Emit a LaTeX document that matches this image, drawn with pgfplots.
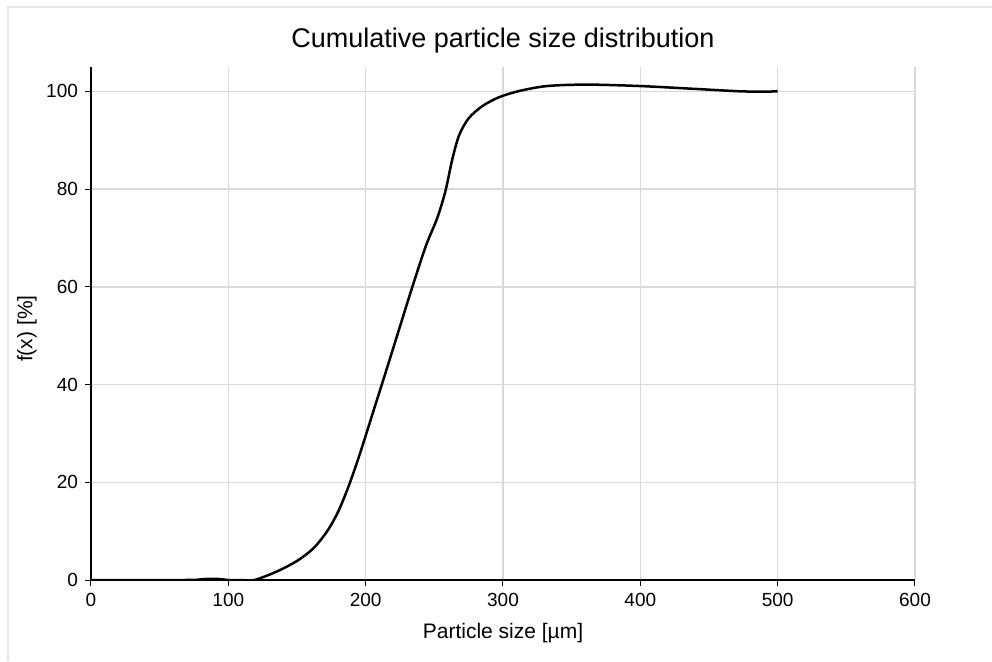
\documentclass[border=0pt]{standalone}
\usepackage{fontspec}
\setmainfont{Liberation Sans}
\usepackage{pgfplots}
\pgfplotsset{compat=1.18}
\definecolor{gridgray}{RGB}{217,217,217}
\definecolor{framegray}{RGB}{230,230,230}

\begin{document}
\begin{tikzpicture}
\useasboundingbox (0,0) rectangle (496pt,330.5pt);
% outer frame of the chart area (only left and top edges are visible)
\draw[framegray, line width=0.6pt] (4pt,0) -- (4pt,327pt) -- (496pt,327pt);
\begin{axis}[
  at={(45.5pt,40.5pt)}, anchor=south west,
  width=412pt, height=256.5pt, scale only axis,
  xmin=0, xmax=600, ymin=0, ymax=105,
  xtick={0,100,...,600}, ytick={0,20,...,100},
  axis lines=left, axis line style={-, black, line width=0.6pt},
  tick align=outside, major tick length=3pt,
  tick style={black, line width=0.5pt},
  grid=major, grid style={gridgray, line width=0.75pt},
  /pgf/number format/assume math mode=true,
  tick label style={font=\fontsize{9.5}{11}\selectfont},
  label style={font=\fontsize{10.5}{12}\selectfont},
  title style={font=\fontsize{13.5}{15}\selectfont, anchor=base, at={(0.5,1)}, yshift=4pt},
  xlabel style={anchor=base, at={(axis description cs:0.5,0)}, yshift=-29pt},
  ylabel style={anchor=center, at={(axis description cs:0,0.49)}, yshift=32pt},
  title={Cumulative particle size distribution},
  xlabel={Particle size [µm]},
  ylabel={f(x) [\%]},
]
\addplot[black, line width=1.25pt, smooth, tension=0.5] coordinates {
  (0,0) (20,0) (40,0) (60,0) (75,0.02) (83,0.2) (90,0.25) (96,0.12) (100,0)
  (110,0) (119,0) (135,1.7) (150,3.9) (162,6.5) (172,10) (180,14)
  (188,19.5) (196,26) (205,34) (214,42) (224,51) (234,60) (244,68.5)
  (252,74) (258,79.5) (263,86) (268,91) (275,94.5) (285,97) (297,98.8)
  (312,100.1) (332,101.1) (361,101.4) (400,101.1) (441,100.5) (475,100) (500,100)
};
\end{axis}
\end{tikzpicture}
\end{document}
